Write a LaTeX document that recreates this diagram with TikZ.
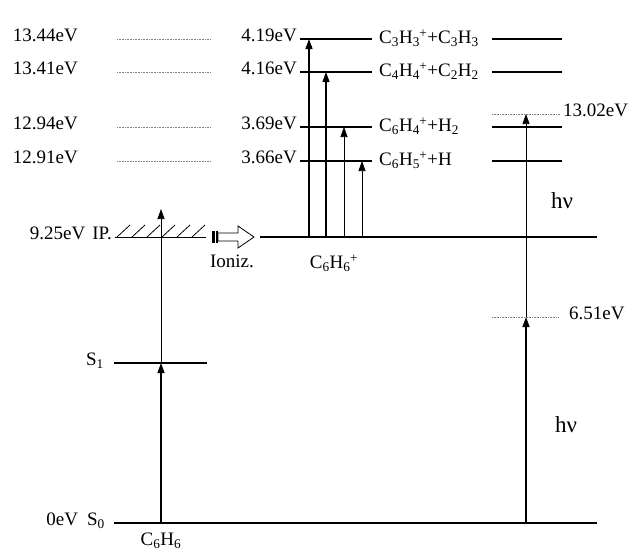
\documentclass[tikz,border=0pt]{standalone}
\usepackage{amsmath}
\usepackage{fontspec}
\setmainfont{Liberation Serif}
\usetikzlibrary{arrows.meta}
\newcommand{\sbs}[1]{\textsubscript{#1}}
\newcommand{\sbsp}[1]{\textsubscript{#1}\kern-0.5pt\textsuperscript{+}}
\begin{document}
\begin{tikzpicture}[x=1pt,y=-1pt,
  every node/.style={font=\fontsize{19}{22}\selectfont, inner sep=0pt},
  lvl/.style={line width=1.1pt},
  guide/.style={line width=0.6pt, gray, densely dotted},
  thickup/.style={line width=1.2pt, -{Triangle[length=10pt,width=7pt]}},
  thinup/.style={line width=0.7pt, -{Triangle[length=10pt,width=7pt]}},
  lab/.style={anchor=mid east},
  rlab/.style={anchor=mid west},
  hvlab/.style={font=\fontsize{23}{26}\selectfont}]
\useasboundingbox (0,0) rectangle (631,552);

% left energy labels
\node[lab] (e1) at (78,39) {13.44eV};
\node[lab] (e2) at (78,72) {13.41eV};
\node[lab] (e3) at (78,127) {12.94eV};
\node[lab] (e4) at (78,161) {12.91eV};
\node[lab] (ip) at (112,237) {9.25eV\hspace{7pt}IP.};
\node[lab] (s1) at (104,363) {S\sbs{1}};
\node[lab] (s0) at (105,523) {0eV\hspace{9pt}S\sbs{0}};

% dotted guides
\foreach \yy in {39,72,127,161} \draw[guide] (117,\yy) -- (210,\yy);

% middle energy labels
\node[lab] (m1) at (297,39) {4.19eV};
\node[lab] (m2) at (297,72) {4.16eV};
\node[lab] (m3) at (297,127) {3.69eV};
\node[lab] (m4) at (297,161) {3.66eV};

% middle level lines
\foreach \yy in {39,72,127,161} \draw[lvl] (300,\yy) -- (372,\yy);

% product labels
\node[rlab] (p1) at (379,41) {C\sbs{3}H\sbsp{3}+C\sbs{3}H\sbs{3}};
\node[rlab] (p2) at (379,74) {C\sbs{4}H\sbsp{4}+C\sbs{2}H\sbs{2}};
\node[rlab] (p3) at (379,129) {C\sbs{6}H\sbsp{4}+H\sbs{2}};
\node[rlab] (p4) at (379,163) {C\sbs{6}H\sbsp{5}+H};

% right level lines
\foreach \yy in {39,72,127,161} \draw[lvl] (492,\yy) -- (562,\yy);
\draw[guide] (492,114) -- (560,114);
\draw[guide] (492,317) -- (558,317);
\node[rlab] (r1) at (563,114) {13.02eV};
\node[rlab] (r2) at (569,317) {6.51eV};
\node[hvlab] (hv1) at (562,201) {hν};
\node[hvlab] (hv2) at (566,425) {hν};

% main levels
\draw[lvl] (114,523) -- (597,523);
\draw[lvl] (114,363) -- (207,363);
\draw[lvl] (260,237) -- (597,237);
\draw[line width=0.9pt] (115,237) -- (206,237);
\foreach \xx in {117,132,147,162,177,192} \draw[line width=0.8pt] (\xx,237) -- ++(13,-12);

% ionization arrow
\fill (212,231) rectangle (215,243);
\fill (216,231) rectangle (218,243);
\draw[line width=0.8pt] (218,233) -- (238,233) -- (238,226) -- (254,237) -- (238,248) -- (238,241) -- (218,241) -- cycle;
\node (ioniz) at (232,261) {Ioniz.};
\node (ion) at (334,263) {C\sbs{6}H\sbsp{6}};
\node (neu) at (161,541) {C\sbs{6}H\sbs{6}};

% coordinates for transitions
\coordinate (a0) at (161,523);
\coordinate (a1) at (161,363);
\coordinate (a2) at (161,209);
\coordinate (b0) at (526,523);
\coordinate (b1) at (526,317);
\coordinate (b2) at (526,114);
\draw[thickup] (a0) -- (a1);
\draw[thinup] (a1) -- (a2);
\draw[thickup] (b0) -- (b1);
\draw[thinup] (b1) -- (b2);

\coordinate (c1) at (309,237); \coordinate (d1) at (309,39);
\coordinate (c2) at (326,237); \coordinate (d2) at (326,72);
\coordinate (c3) at (344,237); \coordinate (d3) at (344,127);
\coordinate (c4) at (362,237); \coordinate (d4) at (362,161);
\draw[thickup] (c1) -- (d1);
\draw[thickup] (c2) -- (d2);
\draw[thinup] (c3) -- (d3);
\draw[thinup] (c4) -- (d4);
\end{tikzpicture}
\end{document}
